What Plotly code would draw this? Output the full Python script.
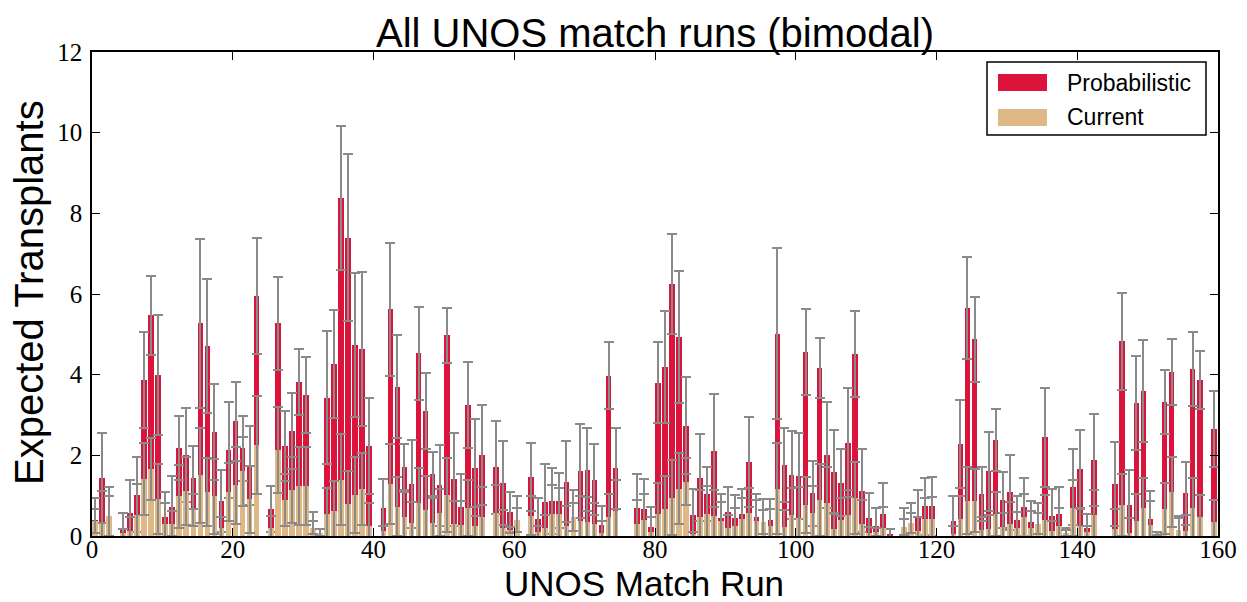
import plotly.graph_objects as go

# ---- data ----
runs = list(range(160))

probabilistic = [
    0.40, 1.44, 0.50, 0.00, 0.20, 0.57, 1.02, 3.87, 5.47, 3.99,
    0.47, 0.73, 2.18, 2.01, 1.45, 5.27, 4.71, 2.58, 0.87, 2.13,
    2.85, 2.17, 1.75, 5.95, 0.00, 0.67, 5.27, 2.23, 2.60, 3.81,
    3.50, 0.20, 0.08, 3.43, 4.26, 8.38, 7.40, 4.74, 4.64, 2.23,
    0.00, 0.69, 5.62, 3.70, 1.70, 1.29, 4.53, 3.10, 1.53, 1.26,
    4.98, 1.41, 0.73, 3.25, 1.69, 2.01, 0.00, 1.70, 1.32, 0.60,
    0.40, 0.00, 1.47, 0.42, 0.85, 0.87, 0.87, 1.35, 0.48, 1.61,
    1.64, 1.39, 0.27, 3.97, 1.68, 0.00, 0.00, 0.70, 0.67, 0.23,
    3.80, 4.20, 6.25, 4.93, 2.73, 0.52, 1.44, 1.04, 2.11, 0.45,
    0.59, 0.45, 0.55, 1.84, 0.46, 0.34, 0.40, 5.02, 1.76, 1.51,
    1.49, 4.56, 1.06, 4.17, 2.01, 1.59, 1.32, 2.31, 4.51, 1.12,
    0.44, 0.26, 0.55, 0.05, 0.00, 0.23, 0.33, 0.48, 0.74, 0.74,
    0.00, 0.00, 0.37, 2.28, 5.65, 4.88, 1.04, 1.60, 2.38, 0.89,
    1.09, 0.40, 0.72, 0.35, 0.31, 2.45, 0.50, 0.55, 0.07, 1.21,
    1.66, 0.21, 1.88, 0.00, 0.00, 1.29, 4.83, 0.77, 3.30, 3.60,
    0.42, 0.05, 3.33, 4.07, 0.15, 1.06, 4.14, 3.87, 0.00, 2.65,
]

probabilistic_err = [
    0.53, 1.11, 0.72, 0.00, 0.38, 0.83, 0.93, 1.18, 0.97, 1.49,
    0.61, 0.76, 0.80, 1.16, 0.78, 2.09, 1.65, 1.18, 0.77, 1.20,
    0.98, 0.81, 0.98, 1.43, 0.00, 0.58, 1.16, 0.87, 0.95, 0.82,
    0.95, 0.40, 0.09, 1.65, 1.34, 1.79, 2.07, 1.79, 1.91, 1.20,
    0.00, 0.72, 1.65, 1.28, 0.57, 1.09, 1.16, 0.95, 0.55, 1.00,
    0.68, 1.15, 0.80, 1.07, 1.20, 1.25, 0.00, 1.15, 1.04, 0.50,
    0.58, 0.00, 0.84, 0.53, 0.93, 0.81, 0.68, 1.01, 0.66, 1.17,
    1.03, 0.88, 0.48, 0.83, 1.01, 0.00, 0.00, 0.83, 0.74, 0.48,
    1.00, 1.39, 1.24, 1.63, 1.20, 0.64, 1.08, 0.66, 1.40, 0.60,
    0.62, 0.57, 0.62, 1.12, 0.58, 0.58, 0.51, 2.13, 0.91, 1.10,
    1.07, 1.06, 0.81, 0.75, 1.32, 1.05, 0.83, 1.35, 1.07, 1.03,
    0.62, 0.43, 0.77, 0.12, 0.00, 0.46, 0.48, 0.66, 0.71, 0.73,
    0.00, 0.00, 0.61, 1.08, 1.27, 1.05, 0.68, 0.99, 0.76, 0.69,
    0.93, 0.58, 0.71, 0.53, 0.52, 1.23, 0.66, 0.66, 0.12, 0.94,
    0.98, 0.34, 1.14, 0.00, 0.00, 1.05, 1.20, 0.87, 1.16, 1.26,
    0.70, 0.06, 0.79, 0.81, 0.35, 0.78, 0.91, 0.72, 0.00, 0.95,
]

current = [
    0.38, 0.31, 0.50, 0.00, 0.07, 0.13, 0.52, 1.41, 1.66, 0.92,
    0.31, 0.31, 0.98, 1.12, 0.64, 1.51, 1.09, 0.99, 0.19, 1.09,
    1.26, 1.60, 0.91, 2.26, 0.00, 0.21, 2.13, 0.89, 1.14, 1.24,
    1.24, 0.21, 0.08, 0.55, 0.61, 1.40, 0.79, 1.02, 1.17, 0.25,
    0.00, 0.12, 1.29, 0.73, 0.48, 0.33, 0.83, 0.64, 0.33, 0.58,
    1.02, 0.29, 0.27, 0.70, 0.26, 0.48, 0.00, 0.56, 0.19, 0.15,
    0.40, 0.00, 0.50, 0.11, 0.21, 0.55, 0.55, 0.25, 0.48, 0.38,
    0.35, 0.31, 0.08, 0.48, 0.62, 0.00, 0.00, 0.30, 0.40, 0.11,
    0.55, 0.67, 0.95, 1.17, 1.35, 0.04, 0.48, 0.55, 0.50, 0.36,
    0.21, 0.25, 0.41, 0.56, 0.37, 0.34, 0.25, 1.17, 0.23, 0.52,
    0.45, 0.77, 0.56, 0.89, 0.81, 0.18, 0.40, 0.52, 0.95, 0.30,
    0.08, 0.11, 0.21, 0.00, 0.00, 0.23, 0.33, 0.13, 0.41, 0.43,
    0.00, 0.00, 0.05, 0.43, 0.88, 0.88, 0.15, 0.17, 0.55, 0.23,
    0.31, 0.21, 0.48, 0.21, 0.31, 0.40, 0.13, 0.25, 0.07, 0.70,
    0.25, 0.10, 0.52, 0.00, 0.00, 0.17, 0.77, 0.08, 0.37, 0.70,
    0.27, 0.07, 0.68, 1.09, 0.15, 0.13, 0.70, 0.48, 0.00, 0.35,
]

current_err = [
    0.30, 0.81, 0.50, 0.00, 0.10, 0.33, 0.76, 0.90, 0.76, 0.87,
    0.52, 0.30, 0.79, 0.85, 0.40, 1.18, 0.84, 0.93, 0.27, 0.73,
    0.95, 0.86, 0.83, 1.21, 0.00, 0.28, 1.06, 0.64, 0.81, 0.97,
    0.97, 0.15, 0.09, 0.65, 0.75, 1.13, 0.82, 0.95, 0.90, 0.56,
    0.00, 0.14, 0.98, 0.74, 0.62, 0.52, 0.86, 0.86, 0.60, 0.58,
    0.91, 0.59, 0.60, 0.69, 0.47, 0.73, 0.00, 0.70, 0.45, 0.08,
    0.30, 0.00, 0.48, 0.14, 0.31, 0.71, 0.63, 0.49, 0.35, 0.61,
    0.61, 0.52, 0.29, 0.55, 0.77, 0.00, 0.00, 0.59, 0.63, 0.35,
    0.76, 0.82, 0.93, 0.88, 0.58, 0.07, 0.66, 0.70, 0.64, 0.49,
    0.31, 0.44, 0.54, 0.64, 0.52, 0.30, 0.41, 1.13, 0.41, 0.66,
    0.76, 0.70, 0.68, 0.90, 0.91, 0.38, 0.53, 0.62, 0.89, 0.59,
    0.15, 0.10, 0.50, 0.00, 0.00, 0.20, 0.25, 0.35, 0.54, 0.53,
    0.00, 0.00, 0.21, 0.55, 0.82, 0.77, 0.31, 0.35, 0.55, 0.33,
    0.54, 0.38, 0.56, 0.41, 0.25, 0.62, 0.25, 0.45, 0.07, 0.70,
    0.45, 0.15, 0.62, 0.00, 0.00, 0.49, 0.76, 0.36, 0.67, 0.75,
    0.60, 0.04, 0.64, 0.86, 0.30, 0.39, 0.73, 0.54, 0.00, 0.54,
]

x_ticks = [0, 20, 40, 60, 80, 100, 120, 140, 160]
y_ticks = [0, 2, 4, 6, 8, 10, 12]

series_names = ["Probabilistic", "Current"]
RED = "#DC143C"
TAN = "#DEB887"
ERR = "#8a8a8a"


def nz(vals, ref):
    return [v if r > 0 else None for v, r in zip(vals, ref)]


fig = go.Figure()
fig.add_trace(go.Bar(
    x=runs, y=nz(probabilistic, probabilistic), name=series_names[0],
    width=0.8, offset=0, marker=dict(color=RED, line=dict(width=0)),
    error_y=dict(type="data", array=nz(probabilistic_err, probabilistic),
                 color=ERR, thickness=2, width=5),
    showlegend=False,
))
fig.add_trace(go.Bar(
    x=runs, y=nz(current, current), name=series_names[1],
    width=0.8, offset=0, marker=dict(color=TAN, line=dict(width=0)),
    error_y=dict(type="data", array=nz(current_err, current),
                 color=ERR, thickness=2, width=5),
    showlegend=False,
))

# page body has an 8px margin: the figure is drawn at screen (8, 8)
OFF = 8
SCREEN_W, SCREEN_H = 1247, 602
W, H = SCREEN_W - OFF, SCREEN_H - OFF
PL, PR, PT, PB = 92, 1218, 52, 536   # plot area in screen pixels
L, T = PL - OFF, PT - OFF
R, B = SCREEN_W - PR, SCREEN_H - PB
pw, ph = PR - PL, PB - PT


def px_x(p):
    return (p - PL) / pw


def px_y(p):
    return (PB - p) / ph


axis_common = dict(
    showgrid=False, zeroline=False, showline=True, linecolor="black",
    linewidth=1.5, mirror="allticks", ticks="inside", ticklen=8,
    tickwidth=1, tickcolor="black",
    tickfont=dict(family="Liberation Serif", size=25, color="black"),
)

fig.update_layout(
    width=W, height=H,
    margin=dict(l=L, r=R, t=T, b=B, autoexpand=False),
    paper_bgcolor="white", plot_bgcolor="white",
    barmode="overlay", bargap=0,
    title=dict(text="All UNOS match runs (bimodal)", x=0.5, xref="paper",
               y=1 - (33 - OFF) / H, yref="container", yanchor="middle",
               font=dict(family="Liberation Sans", size=40, color="black")),
    xaxis=dict(range=[0, 160], tickvals=x_ticks, ticktext=[str(v) for v in x_ticks],
               ticklabelstandoff=-10, **axis_common),
    yaxis=dict(range=[0, 12], tickvals=y_ticks, ticktext=[str(v) for v in y_ticks],
               ticklabelstandoff=3, **axis_common),
    showlegend=False,
)

annotations = [
    dict(text="UNOS Match Run", xref="paper", yref="paper", x=px_x(644), y=px_y(583),
         xanchor="center", yanchor="middle", showarrow=False,
         font=dict(family="Liberation Sans", size=35, color="black")),
    dict(text="Expected Transplants", xref="paper", yref="paper", x=px_x(29), y=px_y(293),
         xanchor="center", yanchor="middle", textangle=-90, showarrow=False,
         font=dict(family="Liberation Sans", size=40, color="black")),
]

# manual legend (box, patches, labels)
shapes = [
    dict(type="rect", xref="paper", yref="paper",
         x0=px_x(987), x1=px_x(1206), y0=px_y(135), y1=px_y(62),
         line=dict(color="black", width=1.5), fillcolor="white", layer="above"),
    dict(type="rect", xref="paper", yref="paper",
         x0=px_x(998), x1=px_x(1047), y0=px_y(91), y1=px_y(74),
         line=dict(width=0), fillcolor=RED, layer="above"),
    dict(type="rect", xref="paper", yref="paper",
         x0=px_x(998), x1=px_x(1047), y0=px_y(126), y1=px_y(109),
         line=dict(width=0), fillcolor=TAN, layer="above"),
]
for name, yc in zip(series_names, [83, 117]):
    annotations.append(dict(text=name, xref="paper", yref="paper",
                            x=px_x(1065), y=px_y(yc), xanchor="left", yanchor="middle",
                            showarrow=False,
                            font=dict(family="Liberation Sans", size=23, color="black")))

fig.update_layout(annotations=annotations, shapes=shapes)

fig.write_html("out.html")
